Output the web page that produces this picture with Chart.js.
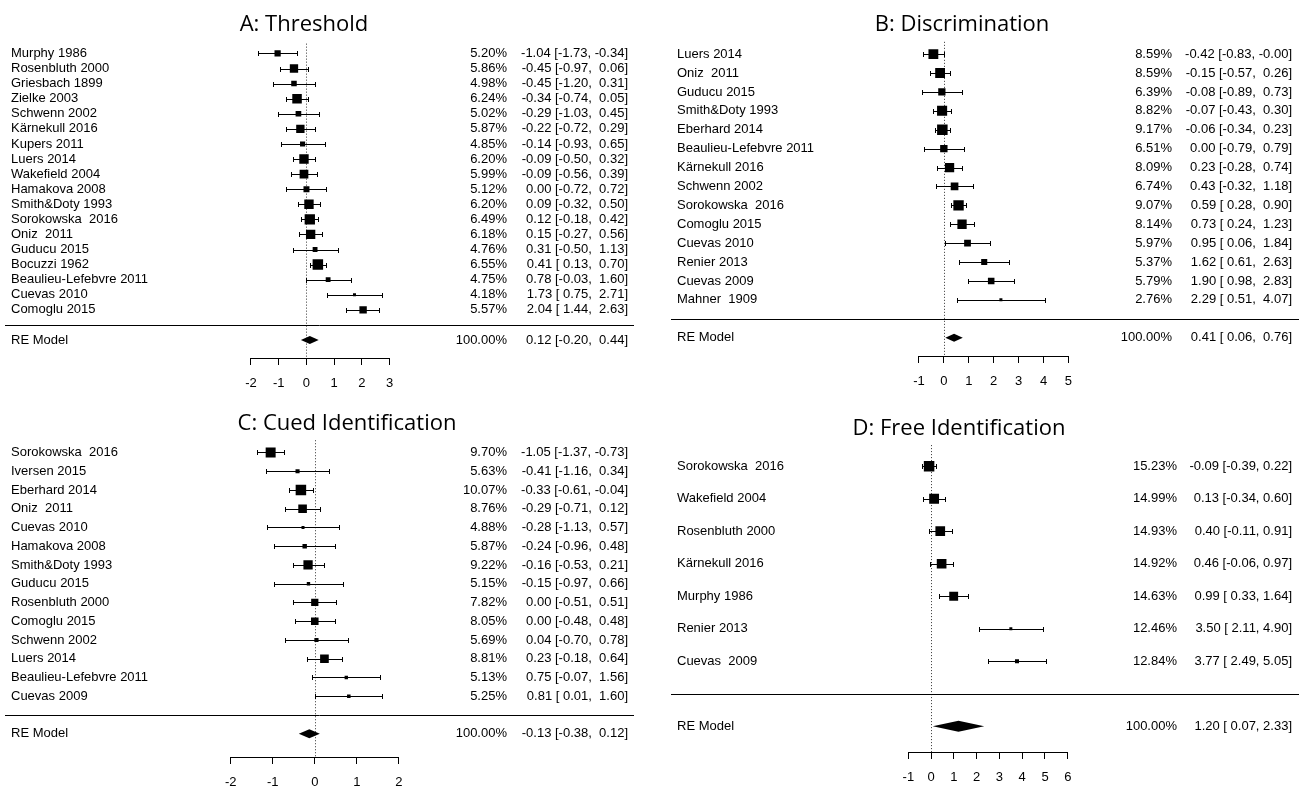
<!DOCTYPE html>
<html lang="en">

<head>
    <meta charset="UTF-8">
    <title>Forest plots: Threshold, Discrimination, Identification</title>

    <!-- ChartJS CDN -->
    <script src="https://cdn.jsdelivr.net/npm/chart.js"></script>

    <style>
        body { margin: 0; background: #fff; }
        .wrap { position: relative; width: 1307px; height: 792px; overflow: hidden; }
        .wrap canvas { position: absolute; }
    </style>
</head>

<body>
    <div class="wrap">
        <canvas id="thresholdChart" width="653" height="400" style="left:0px;top:0px"></canvas>
        <canvas id="discriminationChart" width="653" height="400" style="left:654px;top:0px"></canvas>
        <canvas id="cuedChart" width="653" height="392" style="left:0px;top:400px"></canvas>
        <canvas id="freeChart" width="653" height="392" style="left:654px;top:400px"></canvas>
    </div>

    <script>
        // A: Threshold
        const thresholdStudies = ['Murphy 1986', 'Rosenbluth 2000', 'Griesbach 1899', 'Zielke 2003', 'Schwenn 2002', 'Kärnekull 2016',
            'Kupers 2011', 'Luers 2014', 'Wakefield 2004', 'Hamakova 2008', 'Smith&Doty 1993', 'Sorokowska  2016', 'Oniz  2011',
            'Guducu 2015', 'Bocuzzi 1962', 'Beaulieu-Lefebvre 2011', 'Cuevas 2010', 'Comoglu 2015'];
        const thresholdWeights = [5.20, 5.86, 4.98, 6.24, 5.02, 5.87, 4.85, 6.20, 5.99, 5.12, 6.20, 6.49, 6.18, 4.76, 6.55, 4.75, 4.18, 5.57];
        const thresholdEst = [-1.04, -0.45, -0.45, -0.34, -0.29, -0.22, -0.14, -0.09, -0.09, 0.00, 0.09, 0.12, 0.15, 0.31, 0.41, 0.78, 1.73, 2.04];
        const thresholdLower = [-1.73, -0.97, -1.20, -0.74, -1.03, -0.72, -0.93, -0.50, -0.56, -0.72, -0.32, -0.18, -0.27, -0.50, 0.13, -0.03, 0.75, 1.44];
        const thresholdUpper = [-0.34, 0.06, 0.31, 0.05, 0.45, 0.29, 0.65, 0.32, 0.39, 0.72, 0.50, 0.42, 0.56, 1.13, 0.70, 1.60, 2.71, 2.63];
        const thresholdModel = [0.12, -0.20, 0.44];
        const thresholdTicks = [-2, -1, 0, 1, 2, 3];

        // B: Discrimination
        const discriminationStudies = ['Luers 2014', 'Oniz  2011', 'Guducu 2015', 'Smith&Doty 1993', 'Eberhard 2014', 'Beaulieu-Lefebvre 2011',
            'Kärnekull 2016', 'Schwenn 2002', 'Sorokowska  2016', 'Comoglu 2015', 'Cuevas 2010', 'Renier 2013', 'Cuevas 2009', 'Mahner  1909'];
        const discriminationWeights = [8.59, 8.59, 6.39, 8.82, 9.17, 6.51, 8.09, 6.74, 9.07, 8.14, 5.97, 5.37, 5.79, 2.76];
        const discriminationEst = [-0.42, -0.15, -0.08, -0.07, -0.06, 0.00, 0.23, 0.43, 0.59, 0.73, 0.95, 1.62, 1.90, 2.29];
        const discriminationLower = [-0.83, -0.57, -0.89, -0.43, -0.34, -0.79, -0.28, -0.32, 0.28, 0.24, 0.06, 0.61, 0.98, 0.51];
        const discriminationUpper = [-0.00, 0.26, 0.73, 0.30, 0.23, 0.79, 0.74, 1.18, 0.90, 1.23, 1.84, 2.63, 2.83, 4.07];
        const discriminationModel = [0.41, 0.06, 0.76];
        const discriminationTicks = [-1, 0, 1, 2, 3, 4, 5];

        // C: Cued Identification
        const cuedStudies = ['Sorokowska  2016', 'Iversen 2015', 'Eberhard 2014', 'Oniz  2011', 'Cuevas 2010', 'Hamakova 2008', 'Smith&Doty 1993',
            'Guducu 2015', 'Rosenbluth 2000', 'Comoglu 2015', 'Schwenn 2002', 'Luers 2014', 'Beaulieu-Lefebvre 2011', 'Cuevas 2009'];
        const cuedWeights = [9.70, 5.63, 10.07, 8.76, 4.88, 5.87, 9.22, 5.15, 7.82, 8.05, 5.69, 8.81, 5.13, 5.25];
        const cuedEst = [-1.05, -0.41, -0.33, -0.29, -0.28, -0.24, -0.16, -0.15, 0.00, 0.00, 0.04, 0.23, 0.75, 0.81];
        const cuedLower = [-1.37, -1.16, -0.61, -0.71, -1.13, -0.96, -0.53, -0.97, -0.51, -0.48, -0.70, -0.18, -0.07, 0.01];
        const cuedUpper = [-0.73, 0.34, -0.04, 0.12, 0.57, 0.48, 0.21, 0.66, 0.51, 0.48, 0.78, 0.64, 1.56, 1.60];
        const cuedModel = [-0.13, -0.38, 0.12];
        const cuedTicks = [-2, -1, 0, 1, 2];

        // D: Free Identification
        const freeStudies = ['Sorokowska  2016', 'Wakefield 2004', 'Rosenbluth 2000', 'Kärnekull 2016', 'Murphy 1986', 'Renier 2013', 'Cuevas  2009'];
        const freeWeights = [15.23, 14.99, 14.93, 14.92, 14.63, 12.46, 12.84];
        const freeEst = [-0.09, 0.13, 0.40, 0.46, 0.99, 3.50, 3.77];
        const freeLower = [-0.39, -0.34, -0.11, -0.06, 0.33, 2.11, 2.49];
        const freeUpper = [0.22, 0.60, 0.91, 0.97, 1.64, 4.90, 5.05];
        const freeModel = [1.20, 0.07, 2.33];
        const freeTicks = [-1, 0, 1, 2, 3, 4, 5, 6];

        Chart.defaults.font.family = "'Liberation Sans', Arial, Helvetica, sans-serif";
        Chart.defaults.font.size = 13;
        Chart.defaults.color = '#000';

        function fmt(v) {
            return (v < 0 || Object.is(v, -0)) ? '-' + Math.abs(v).toFixed(2) : v.toFixed(2);
        }

        // pad a column of numbers to the same width, like R's formatC
        function column(values) {
            const s = values.map(fmt);
            const w = Math.max(...s.map(t => t.length));
            return s.map(t => t.padStart(w, ' '));
        }

        function forestLayer(p) {
            const k = p.est.length;
            const e = column(p.est.concat([p.model[0]]));
            const l = column(p.lower.concat([p.model[1]]));
            const h = column(p.upper.concat([p.model[2]]));
            const ci = e.map((v, i) => v + ' [' + l[i] + ', ' + h[i] + ']');
            const pct = p.weights.map(w => w.toFixed(2) + '%').concat(['100.00%']);

            return {
                id: 'forest',
                beforeDatasetsDraw(chart) {
                    const { ctx, chartArea } = chart;
                    const x = chart.scales.x, y = chart.scales.y;
                    ctx.save();
                    // dotted reference line at 0
                    const x0 = Math.round(x.getPixelForValue(0)) + 0.5;
                    ctx.strokeStyle = '#333';
                    ctx.lineWidth = 1;
                    ctx.setLineDash([1, 2]);
                    ctx.beginPath();
                    ctx.moveTo(x0, y.getPixelForValue(k + 0.65));
                    ctx.lineTo(x0, chartArea.bottom);
                    ctx.stroke();
                    ctx.setLineDash([]);

                    // confidence intervals
                    ctx.strokeStyle = '#000';
                    p.est.forEach((v, i) => {
                        const py = Math.round(y.getPixelForValue(k - i)) + 0.5;
                        const a = Math.round(x.getPixelForValue(p.lower[i])) + 0.5;
                        const b = Math.round(x.getPixelForValue(p.upper[i])) + 0.5;
                        ctx.beginPath();
                        ctx.moveTo(a, py);
                        ctx.lineTo(b, py);
                        ctx.moveTo(a, py - 2.5);
                        ctx.lineTo(a, py + 2.5);
                        ctx.moveTo(b, py - 2.5);
                        ctx.lineTo(b, py + 2.5);
                        ctx.stroke();
                    });
                    ctx.restore();
                },
                afterDraw(chart) {
                    const { ctx, chartArea } = chart;
                    const x = chart.scales.x, y = chart.scales.y;
                    ctx.save();
                    ctx.strokeStyle = '#000';
                    ctx.fillStyle = '#000';
                    ctx.lineWidth = 1;

                    // separator above the summary row
                    const sy = Math.round(y.getPixelForValue(0)) + 0.5;
                    ctx.beginPath();
                    ctx.moveTo(p.lineX0, sy);
                    ctx.lineTo(p.lineX1, sy);
                    ctx.stroke();

                    // axis line only between first and last tick
                    const ay = Math.floor(chartArea.bottom) + 0.5;
                    ctx.beginPath();
                    ctx.moveTo(x.getPixelForValue(p.ticks[0]), ay);
                    ctx.lineTo(x.getPixelForValue(p.ticks[p.ticks.length - 1]), ay);
                    ctx.stroke();

                    // RE model diamond
                    const dy = y.getPixelForValue(-1);
                    ctx.beginPath();
                    ctx.moveTo(x.getPixelForValue(p.model[1]), dy);
                    ctx.lineTo(x.getPixelForValue(p.model[0]), dy - p.diamondH);
                    ctx.lineTo(x.getPixelForValue(p.model[2]), dy);
                    ctx.lineTo(x.getPixelForValue(p.model[0]), dy + p.diamondH);
                    ctx.closePath();
                    ctx.fill();

                    // study labels, weights and estimates
                    ctx.font = "13px 'Liberation Sans', Arial, sans-serif";
                    ctx.textBaseline = 'middle';
                    const rows = p.studies.concat(['RE Model']);
                    rows.forEach((name, i) => {
                        const py = i < k ? y.getPixelForValue(k - i) : dy;
                        ctx.textAlign = 'left';
                        ctx.fillText(name, p.nameX, py);
                        ctx.textAlign = 'right';
                        ctx.fillText(pct[i], p.pctX, py);
                        ctx.fillText(ci[i], p.ciX, py);
                    });

                    // panel title
                    ctx.font = "22px 'Open Sans', sans-serif";
                    ctx.textAlign = 'center';
                    ctx.fillText(p.title, p.titleX, p.titleY);
                    ctx.restore();
                }
            };
        }

        function forestChart(id, p) {
            const k = p.est.length;
            const wMin = Math.min(...p.weights), wMax = Math.max(...p.weights);
            const side = p.weights.map(w => 3 + (w - wMin) / (wMax - wMin) * 7.5);

            return new Chart(document.getElementById(id).getContext('2d'), {
                type: 'scatter',
                data: {
                    datasets: [{
                        data: p.est.map((v, i) => ({ x: v, y: k - i })),
                        pointStyle: 'rect',
                        pointRadius: side.map(s => s / Math.SQRT2),
                        backgroundColor: '#000',
                        borderWidth: 0
                    }]
                },
                options: {
                    responsive: false,
                    animation: false,
                    devicePixelRatio: 1,
                    layout: { padding: 0 },
                    plugins: {
                        legend: { display: false },
                        tooltip: { enabled: false }
                    },
                    scales: {
                        x: {
                            type: 'linear',
                            min: p.xlim[0],
                            max: p.xlim[1],
                            afterBuildTicks: axis => { axis.ticks = p.ticks.map(v => ({ value: v })); },
                            afterFit: axis => { axis.height = p.axisH; },
                            border: { display: false },
                            grid: {
                                drawOnChartArea: false,
                                drawTicks: true,
                                tickLength: 7,
                                tickColor: '#000',
                                tickWidth: 1
                            },
                            ticks: {
                                color: '#000',
                                font: { size: 13 },
                                padding: 11,
                                maxRotation: 0,
                                autoSkip: false,
                                callback: v => String(v)
                            }
                        },
                        y: {
                            type: 'linear',
                            display: false,
                            min: p.ylim[0],
                            max: p.ylim[1]
                        }
                    }
                },
                plugins: [forestLayer(p)]
            });
        }

        forestChart('thresholdChart', {
            title: 'A: Threshold', studies: thresholdStudies, weights: thresholdWeights,
            est: thresholdEst, lower: thresholdLower, upper: thresholdUpper, model: thresholdModel, ticks: thresholdTicks,
            xlim: [-10.775, 12.218], ylim: [-2.19, 21.05], axisH: 42,
            nameX: 11, pctX: 507, ciX: 628, lineX0: 5, lineX1: 634, titleX: 304, titleY: 25, diamondH: 4
        });

        forestChart('discriminationChart', {
            title: 'B: Discrimination', studies: discriminationStudies, weights: discriminationWeights,
            est: discriminationEst, lower: discriminationLower, upper: discriminationUpper, model: discriminationModel, ticks: discriminationTicks,
            xlim: [-11.333, 14.275], ylim: [-1.97, 16.47], axisH: 44,
            nameX: 23, pctX: 518, ciX: 638, lineX0: 17, lineX1: 645, titleX: 308, titleY: 25, diamondH: 4
        });

        forestChart('cuedChart', {
            title: 'C: Cued Identification', studies: cuedStudies, weights: cuedWeights,
            est: cuedEst, lower: cuedLower, upper: cuedUpper, model: cuedModel, ticks: cuedTicks,
            xlim: [-7.314, 7.872], ylim: [-2.24, 16.40], axisH: 35,
            nameX: 11, pctX: 507, ciX: 628, lineX0: 5, lineX1: 634, titleX: 347, titleY: 24, diamondH: 4.5
        });

        forestChart('freeChart', {
            title: 'D: Free Identification', studies: freeStudies, weights: freeWeights,
            est: freeEst, lower: freeLower, upper: freeUpper, model: freeModel, ticks: freeTicks,
            xlim: [-11.845, 16.18], ylim: [-1.795, 8.81], axisH: 40,
            nameX: 23, pctX: 523, ciX: 638, lineX0: 17, lineX1: 645, titleX: 305, titleY: 29, diamondH: 5.5
        });
    </script>
</body>

</html>
